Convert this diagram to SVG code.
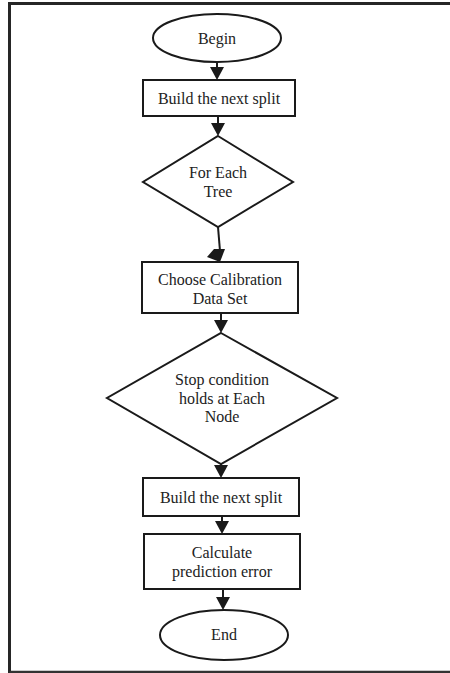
<svg xmlns="http://www.w3.org/2000/svg" width="450" height="673" viewBox="0 0 450 673">
<style>
.s{fill:#fff;stroke:#1a1a1a;stroke-width:2}
.t{font-family:"Liberation Serif","Times New Roman",serif;font-size:16px;fill:#222;text-anchor:middle}
.c{stroke:#1a1a1a;stroke-width:2;fill:none}
.h{fill:#1a1a1a}
</style>
<rect width="450" height="673" fill="#fff"/>
<g id="frame">
<path d="M9.5 673 V3.5 H450" fill="none" stroke="#262626" stroke-width="3"/>
<path d="M9.5 672 H450" fill="none" stroke="#333" stroke-width="2.5"/>
</g>
<g id="connectors">
<line class="c" x1="217" y1="62" x2="217" y2="68"/>
<polygon class="h" points="210,67 224,67 217,80"/>
<line class="c" x1="218" y1="116" x2="218" y2="124"/>
<polygon class="h" points="211,123 225,123 218,136"/>
<line class="c" x1="218" y1="227" x2="220" y2="251"/>
<polygon class="h" points="214,249 225,249 220,262 207,257"/>
<line class="c" x1="221" y1="313" x2="221" y2="321"/>
<polygon class="h" points="214,320 228,320 221,333"/>
<line class="c" x1="221" y1="464" x2="221" y2="467"/>
<polygon class="h" points="214,465 228,465 221,478"/>
<line class="c" x1="222" y1="516" x2="222" y2="523"/>
<polygon class="h" points="215,521 229,521 222,534"/>
<line class="c" x1="223" y1="589" x2="223" y2="598"/>
<polygon class="h" points="216,597 230,597 223,610"/>
</g>
<g id="begin">
<ellipse class="s" cx="217" cy="38" rx="64" ry="24"/>
<text class="t" x="217" y="44">Begin</text>
</g>
<g id="build1">
<rect class="s" x="143" y="80" width="152" height="36"/>
<text class="t" x="219" y="104">Build the next split</text>
</g>
<g id="foreach">
<polygon class="s" points="218,136 293,182 218,227 143,182"/>
<text class="t" x="218" y="178">For Each</text>
<text class="t" x="218" y="197">Tree</text>
</g>
<g id="choose">
<rect class="s" x="142" y="262" width="156" height="51"/>
<text class="t" x="220" y="285">Choose Calibration</text>
<text class="t" x="220" y="304">Data Set</text>
</g>
<g id="stop">
<polygon class="s" points="221,333 337,398 221,464 107,398"/>
<text class="t" x="222" y="385">Stop condition</text>
<text class="t" x="222" y="404">holds at Each</text>
<text class="t" x="222" y="422">Node</text>
</g>
<g id="build2">
<rect class="s" x="143" y="478" width="156" height="38"/>
<text class="t" x="221" y="503">Build the next split</text>
</g>
<g id="calc">
<rect class="s" x="144" y="534" width="156" height="55"/>
<text class="t" x="222" y="558">Calculate</text>
<text class="t" x="222" y="577">prediction error</text>
</g>
<g id="end">
<ellipse class="s" cx="224" cy="635" rx="64" ry="25"/>
<text class="t" x="224" y="640">End</text>
</g>
</svg>
